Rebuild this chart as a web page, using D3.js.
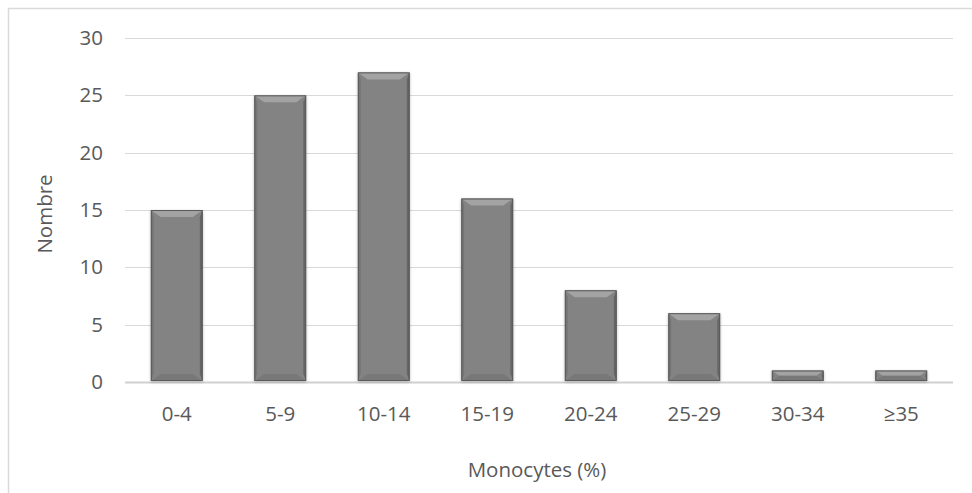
<!DOCTYPE html>
<html><head><meta charset="utf-8">
<script src="https://cdn.jsdelivr.net/npm/d3@7"></script>
<style>body{margin:0;background:#fff}svg{display:block}text{font-family:"Open Sans",Lato,sans-serif;fill:#595959}</style>
</head><body><svg id="c" width="972" height="493"></svg>
<script>
const categories = ["0-4","5-9","10-14","15-19","20-24","25-29","30-34","≥35"];
const values = [15,25,27,16,8,6,1,1];
const yTicks = [0,5,10,15,20,25,30];
const xTitle = "Monocytes (%)";
const yTitle = "Nombre";
const FS = "20.5px";
const FF = "'Open Sans',Lato,sans-serif";

const svg = d3.select("#c");
const m = {l:125, r:953, t:38, b:382};
svg.append("path").attr("d","M8.5,493 V8.5 H972").attr("fill","none").attr("stroke","#d9d9d9").attr("stroke-width",1.5);

const x = d3.scaleBand().domain(categories).range([m.l,m.r]).paddingInner(0.5).paddingOuter(0.25);
const y = d3.scaleLinear().domain([0,30]).range([m.b,m.t]);

svg.append("g").selectAll("line").data(yTicks).join("line")
  .attr("x1",m.l).attr("x2",m.r).attr("y1",d=>Math.round(y(d))+0.5).attr("y2",d=>Math.round(y(d))+0.5)
  .attr("stroke",d=>d===0?"#d0d0d0":"#d9d9d9").attr("stroke-width",d=>d===0?2:1.2);

const ya = svg.append("g").attr("transform",`translate(${m.l},0)`).call(d3.axisLeft(y).tickValues(yTicks).tickSize(0).tickPadding(22));
ya.select(".domain").remove();
ya.selectAll("text").style("font-size",FS).attr("fill","#595959").style("font-family",FF);

const xa = svg.append("g").attr("transform",`translate(0,${m.b})`).call(d3.axisBottom(x).tickSize(0).tickPadding(24));
xa.select(".domain").remove();
xa.selectAll("text").style("font-size",FS).attr("fill","#595959").style("font-family",FF);

const defs = svg.append("defs");
const f = defs.append("filter").attr("id","sh").attr("x","-20%").attr("y","-20%").attr("width","140%").attr("height","140%");
f.append("feGaussianBlur").attr("in","SourceAlpha").attr("stdDeviation",1.5);
f.append("feOffset").attr("dx",0).attr("dy",1).attr("result","b");
f.append("feComponentTransfer").append("feFuncA").attr("type","linear").attr("slope",0.25);
const mg = f.append("feMerge"); mg.append("feMergeNode"); mg.append("feMergeNode").attr("in","SourceGraphic");

const bars = svg.append("g").selectAll("g").data(values).join("g").attr("filter","url(#sh)");
bars.each(function(v,i){
  const g = d3.select(this);
  const x0 = x(categories[i]), w = x.bandwidth();
  const y0 = y(v), y1 = y(0)-1, h = y1-y0;
  const b = Math.min(7, h/2);
  g.append("rect").attr("x",x0).attr("y",y0).attr("width",w).attr("height",h).attr("fill","#838383");
  g.append("path").attr("d",`M${x0},${y0}H${x0+w}L${x0+w-b*1.4},${y0+b}H${x0+b*1.4}Z`).attr("fill","#a3a3a3");
  g.append("path").attr("d",`M${x0},${y0}L${x0+b*0.4},${y0+b}V${y1-b}L${x0},${y1}Z`).attr("fill","#747474");
  g.append("path").attr("d",`M${x0+w},${y0}L${x0+w-b*0.4},${y0+b}V${y1-b}L${x0+w},${y1}Z`).attr("fill","#666");
  g.append("path").attr("d",`M${x0},${y1}H${x0+w}L${x0+w-b*1.4},${y1-b}H${x0+b*1.4}Z`).attr("fill","#787878");
  g.append("rect").attr("x",x0+0.5).attr("y",y0+0.5).attr("width",w-1).attr("height",h-1).attr("fill","none").attr("stroke","#5a5a5a").attr("stroke-width",1);
});

svg.append("text").attr("x",537).attr("y",477).attr("text-anchor","middle").style("font-size",FS).text(xTitle);
svg.append("text").attr("transform","translate(52,214) rotate(-90)").attr("text-anchor","middle").style("font-size",FS).text(yTitle);
</script></body></html>
